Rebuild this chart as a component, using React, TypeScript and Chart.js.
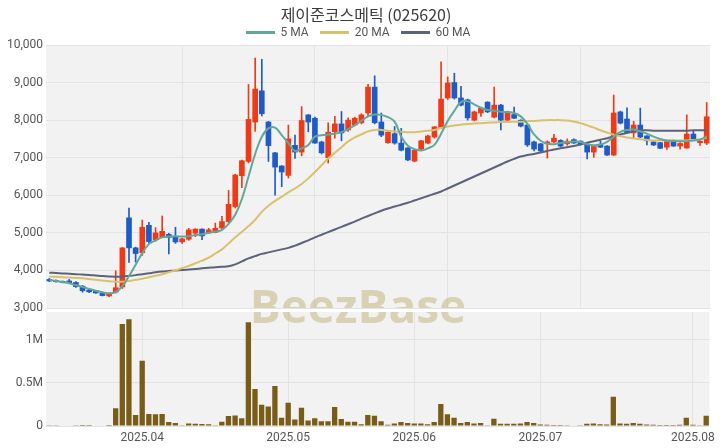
import React, { useEffect, useRef } from 'react';
import { Chart, registerables } from 'chart.js';

Chart.register(...registerables);

// ---- categories (trading days) ----
const monthNames = ['2025.03', '2025.04', '2025.05', '2025.06', '2025.07', '2025.08'];
const marDays = [12, 13, 14, 17, 18, 19, 20, 21, 24, 25, 26, 27, 28, 31];
const aprDays = [1, 2, 3, 4, 7, 8, 9, 10, 11, 14, 15, 16, 17, 18, 21, 22, 23, 24, 25, 28, 29, 30];
const mayDays = [2, 7, 8, 9, 12, 13, 14, 15, 16, 19, 20, 21, 22, 23, 26, 27, 28, 29, 30];
const junDays = [2, 4, 5, 9, 10, 11, 12, 13, 16, 17, 18, 19, 20, 23, 24, 25, 26, 27, 30];
const julDays = [1, 2, 3, 4, 7, 8, 9, 10, 11, 14, 15, 16, 17, 18, 21, 22, 23, 24, 25, 28, 29, 30, 31];
const augDays = [1, 4, 5];

// ---- series values ----
const openPrices = [
  3760, 3730, 3710, 3720, 3680, 3580, 3480, 3460, 3400, 3320,
  3420, 3560, 5400, 4600, 4470, 5200, 4820, 4900, 4960, 4910,
  4760, 4830, 4990, 5100, 5000, 5010, 5130, 5300, 5700, 6520,
  6900, 7950, 8780, 7950, 7130, 6780, 6530, 7330, 7150, 8140,
  8050, 7420, 7000, 7690, 7900, 7740, 7870, 7930, 8190, 8880,
  7950, 7400, 7640, 7390, 7260, 6910, 7230, 7390, 7550, 7800,
  8590, 9000, 8590, 8540, 8000, 8190, 8480, 8080, 8400, 8000,
  8150, 8000, 7870, 7420, 7370, 7370, 7420, 7460, 7370, 7480,
  7440, 7360, 7150, 7360, 7310, 7070, 8220, 8030, 7660, 7870,
  7580, 7420, 7400, 7280, 7460, 7310, 7260, 7630, 7400, 7390,
];
const highPrices = [
  3790, 3750, 3720, 3760, 3700, 3600, 3500, 3470, 3410, 3400,
  3990, 4610, 5660, 4620, 5340, 5280, 5140, 5450, 4990, 5150,
  4860, 5120, 5110, 5110, 5120, 5260, 5440, 6130, 6560, 6940,
  8950, 9650, 9620, 7970, 7140, 6790, 7870, 7600, 8360, 8150,
  8080, 7440, 7930, 8100, 8230, 8060, 8080, 8170, 8950, 9180,
  8190, 7700, 7830, 7780, 7270, 7210, 7460, 7600, 7830, 9550,
  9150, 9250, 8900, 8560, 8240, 8330, 8490, 8880, 8420, 8240,
  8350, 8010, 7880, 7440, 7380, 7450, 7620, 7480, 7500, 7500,
  7450, 7370, 7310, 7450, 7320, 8670, 8240, 8330, 7970, 8320,
  7590, 7430, 7410, 7450, 7470, 7400, 8140, 7720, 7450, 8470,
];
const lowPrices = [
  3700, 3690, 3670, 3650, 3550, 3420, 3410, 3390, 3320, 3300,
  3400, 3520, 4210, 4220, 4400, 4730, 4780, 4880, 4440, 4720,
  4720, 4800, 4900, 4820, 4980, 5000, 5100, 5260, 5660, 6200,
  6860, 7700, 8110, 6900, 6000, 6230, 6460, 6980, 7050, 7690,
  7380, 7100, 6860, 7520, 7450, 7700, 7850, 7900, 8100, 7900,
  7560, 7380, 7360, 7180, 6920, 6890, 7210, 7370, 7520, 7780,
  8550, 8560, 8380, 8000, 7980, 8100, 8200, 8060, 7740, 7990,
  8040, 7820, 7300, 7180, 7150, 6990, 7400, 7290, 7330, 7380,
  7340, 6970, 7010, 7270, 7060, 7060, 7900, 7640, 7520, 7530,
  7340, 7320, 7240, 7220, 7300, 7230, 7250, 7490, 7330, 7350,
];
const closePrices = [
  3720, 3700, 3680, 3670, 3570, 3460, 3430, 3400, 3330, 3380,
  3540, 4600, 4600, 4450, 5150, 4770, 5000, 5040, 4880, 4760,
  4840, 5080, 5100, 4920, 5080, 5120, 5300, 5760, 6540, 6920,
  8020, 8830, 8170, 7320, 6750, 6620, 7500, 7150, 7990, 7950,
  7390, 7130, 7680, 7900, 7660, 8000, 8050, 8140, 8880, 7930,
  7600, 7680, 7390, 7200, 6940, 7200, 7450, 7580, 7820, 8560,
  8990, 8590, 8400, 8060, 8220, 8320, 8220, 8400, 8000, 8220,
  8050, 7840, 7340, 7230, 7180, 7420, 7520, 7310, 7440, 7390,
  7360, 7150, 7300, 7280, 7070, 8190, 7920, 7660, 7870, 7550,
  7450, 7340, 7250, 7440, 7310, 7380, 7630, 7500, 7440, 8090,
];
const volumes = [
  3000, 3000, 5000, 5000, 8000, 12000, 12000, 5000, 5000, 12000,
  205000, 1180000, 1235000, 127000, 755000, 139000, 135000, 139000, 46000, 35000,
  8000, 28000, 25000, 23000, 20000, 10000, 50000, 115000, 123000, 90000,
  1200000, 428000, 246000, 225000, 462000, 95000, 270000, 75000, 210000, 65000,
  90000, 55000, 55000, 220000, 80000, 50000, 50000, 20000, 127000, 120000,
  55000, 15000, 30000, 46000, 35000, 30000, 30000, 20000, 45000, 254000,
  135000, 96000, 35000, 45000, 30000, 35000, 8000, 85000, 25000, 25000,
  25000, 30000, 46000, 35000, 18000, 15000, 12000, 12000, 8000, 5000,
  10000, 25000, 30000, 20000, 18000, 339000, 30000, 25000, 35000, 25000,
  18000, 15000, 12000, 12000, 12000, 15000, 96000, 15000, 10000, 119000,
];
const ma5 = [
  3750, 3720, 3690, 3660, 3610, 3560, 3510, 3460, 3420, 3390,
  3420, 3580, 3850, 4150, 4460, 4700, 4800, 4880, 4900, 4910,
  4900, 4910, 4940, 4960, 5000, 5030, 5080, 5240, 5480, 5900,
  6500, 7100, 7560, 7780, 7800, 7600, 7390, 7180, 7250, 7340,
  7560, 7600, 7620, 7640, 7680, 7760, 7870, 7980, 8100, 8150,
  8140, 8080, 7960, 7560, 7320, 7230, 7190, 7250, 7340, 7640,
  7980, 8250, 8480, 8500, 8420, 8330, 8270, 8250, 8220, 8210,
  8190, 8100, 7900, 7620, 7450, 7370, 7360, 7390, 7410, 7430,
  7420, 7360, 7330, 7350, 7420, 7560, 7690, 7740, 7750, 7700,
  7640, 7560, 7500, 7460, 7450, 7440, 7440, 7460, 7480, 7570,
];
const ma20 = [
  3840, 3830, 3820, 3810, 3800, 3790, 3770, 3750, 3730, 3710,
  3700, 3700, 3720, 3750, 3780, 3820, 3860, 3900, 3950, 4000,
  4060, 4120, 4190, 4260, 4340, 4450, 4560, 4720, 4880, 5030,
  5180, 5350, 5560, 5720, 5850, 5960, 6080, 6180, 6300, 6450,
  6620, 6800, 6980, 7130, 7280, 7430, 7540, 7620, 7700, 7740,
  7740, 7720, 7700, 7690, 7680, 7680, 7700, 7720, 7740, 7790,
  7830, 7860, 7880, 7900, 7910, 7920, 7930, 7940, 7950, 7950,
  7960, 7960, 7970, 7980, 7990, 8000, 8000, 8000, 7990, 7960,
  7920, 7860, 7800, 7730, 7670, 7610, 7570, 7540, 7510, 7490,
  7470, 7460, 7460, 7460, 7460, 7460, 7460, 7470, 7490, 7540,
];
const ma60 = [
  3940, 3930, 3920, 3910, 3900, 3890, 3880, 3865, 3850, 3840,
  3835, 3840, 3855, 3875, 3900, 3925, 3950, 3970, 3985, 4000,
  4010, 4025, 4040, 4055, 4070, 4085, 4095, 4110, 4160, 4240,
  4320, 4380, 4440, 4480, 4520, 4560, 4600, 4660, 4730, 4800,
  4880, 4950, 5020, 5090, 5160, 5230, 5300, 5380, 5450, 5520,
  5590, 5650, 5700, 5750, 5800, 5860, 5920, 5980, 6040, 6100,
  6180, 6260, 6340, 6420, 6500, 6580, 6660, 6740, 6820, 6900,
  6970, 7030, 7070, 7100, 7140, 7180, 7220, 7250, 7280, 7310,
  7350, 7400, 7440, 7480, 7520, 7570, 7620, 7660, 7700, 7730,
  7730, 7720, 7720, 7720, 7720, 7720, 7720, 7730, 7730, 7730,
];

// ---- tick labels ----
const priceMin = 3000;
const priceMax = 10000;
const priceStep = 1000;
const volumeMax = 1320000;
const volumeTicks = [0, 500000, 1000000];
const volumeTickLabels = ['0', '0.5M', '1M'];

const maLabels = ['5 MA', '20 MA', '60 MA'];
const maColors = ['#62a79c', '#d9c16c', '#5c6279'];

// ---- styles ----
const UP = '#ee3a17';
const DOWN = '#1f5bc6';
const VOL = '#7a5c19';
const PLOT_BG = '#f2f2f2';
const GRID = '#e3e3e3';
const TICK = '#555';
const FONT = "Roboto, 'Noto Sans', 'Noto Sans CJK KR', sans-serif";

const PRICE_H = 330; // canvas height for the price panel
const VOL_TOP = 300; // page offset of the volume canvas
const VOL_H = 148;

const dayGroups = [marDays, aprDays, mayDays, junDays, julDays, augDays];
const labels: string[] = [];
const monthStart: number[] = [];
dayGroups.forEach((days, m) => {
  days.forEach((d, j) => {
    if (j === 0 && m > 0) monthStart.push(labels.length);
    labels.push(monthNames[m] + '.' + String(d).padStart(2, '0'));
  });
});

const plotBg = {
  id: 'plotBg',
  beforeDraw(chart: any) {
    const { ctx, chartArea: a } = chart;
    ctx.save();
    ctx.fillStyle = PLOT_BG;
    ctx.fillRect(a.left, a.top, a.right - a.left, a.bottom - a.top);
    ctx.restore();
  },
};

const makeWatermark = (canvasTop: number) => ({
  id: 'wm',
  beforeDatasetsDraw(chart: any) {
    const { ctx, chartArea: a } = chart;
    ctx.save();
    ctx.beginPath();
    ctx.rect(a.left, a.top, a.right - a.left, a.bottom - a.top);
    ctx.clip();
    ctx.font = "bold 46px 'Open Sans', Roboto, sans-serif";
    ctx.fillStyle = 'rgba(196, 182, 128, 0.55)';
    ctx.textAlign = 'center';
    ctx.textBaseline = 'middle';
    ctx.fillText('BeezBase', 358, 310 - canvasTop);
    ctx.restore();
  },
});

export default function App() {
  const priceRef = useRef<HTMLCanvasElement>(null);
  const volRef = useRef<HTMLCanvasElement>(null);

  useEffect(() => {
    const candleColors = closePrices.map((c, i) => (c >= openPrices[i] ? UP : DOWN));
    const maData = [ma5, ma20, ma60];

    const price = new Chart(priceRef.current as HTMLCanvasElement, {
      type: 'bar',
      data: {
        labels,
        datasets: [
          ...maData.map((d, k) => ({
            type: 'line' as const,
            label: maLabels[k],
            data: d,
            borderColor: maColors[k],
            backgroundColor: maColors[k],
            borderWidth: 2,
            pointRadius: 0,
            tension: 0.4,
            order: 0,
          })),
          {
            type: 'bar' as const,
            label: 'wick',
            data: lowPrices.map((l, i) => [l, highPrices[i]]),
            backgroundColor: candleColors,
            barThickness: 1,
            grouped: false,
            order: 2,
          },
          {
            type: 'bar' as const,
            label: 'body',
            data: openPrices.map((o, i) => [o, closePrices[i]]),
            backgroundColor: candleColors,
            barThickness: 5,
            minBarLength: 1,
            grouped: false,
            order: 1,
          },
        ] as any,
      },
      options: {
        animation: false,
        responsive: false,
        devicePixelRatio: 1,
        layout: { padding: { top: 45, right: 10, bottom: PRICE_H - 308, left: 0 } },
        plugins: { legend: { display: false }, title: { display: false }, tooltip: { enabled: false } },
        scales: {
          x: {
            grid: { color: GRID, offset: false, drawTicks: false },
            border: { display: false },
            ticks: { display: false, autoSkip: false },
            afterBuildTicks: (s: any) => {
              s.ticks = labels.map((_, i) => i).filter((i) => i > 0 && i % 20 === 0).map((v) => ({ value: v }));
            },
            afterFit: (s: any) => {
              s.height = 0;
            },
          },
          y: {
            min: priceMin,
            max: priceMax,
            ticks: {
              stepSize: priceStep,
              color: TICK,
              font: { size: 12, family: FONT },
              padding: 3,
              callback: (v: any) => Number(v).toLocaleString('en-US'),
            },
            grid: { color: GRID, drawTicks: false },
            border: { display: false },
            afterFit: (s: any) => {
              s.width = 46;
            },
          },
        },
      } as any,
      plugins: [plotBg, makeWatermark(0)],
    });

    const vol = new Chart(volRef.current as HTMLCanvasElement, {
      type: 'bar',
      data: {
        labels,
        datasets: [
          {
            label: 'volume',
            data: volumes,
            backgroundColor: VOL,
            barPercentage: 0.8,
            categoryPercentage: 1,
          },
        ],
      },
      options: {
        animation: false,
        responsive: false,
        devicePixelRatio: 1,
        layout: { padding: { top: 312 - VOL_TOP, right: 10, bottom: 0, left: 0 } },
        plugins: { legend: { display: false }, title: { display: false }, tooltip: { enabled: false } },
        scales: {
          x: {
            grid: { color: GRID, offset: false, drawTicks: false },
            border: { display: false },
            ticks: {
              autoSkip: false,
              maxRotation: 0,
              padding: 5,
              color: TICK,
              font: { size: 12, family: FONT },
              callback: (v: any) => labels[v].slice(0, 7),
            },
            afterBuildTicks: (s: any) => {
              s.ticks = monthStart.map((v) => ({ value: v }));
            },
            afterFit: (s: any) => {
              s.height = VOL_TOP + VOL_H - 426;
            },
          },
          y: {
            min: 0,
            max: volumeMax,
            ticks: {
              color: TICK,
              font: { size: 12, family: FONT },
              padding: 3,
              callback: (v: any) => volumeTickLabels[volumeTicks.indexOf(Number(v))] ?? '',
            },
            afterBuildTicks: (s: any) => {
              s.ticks = volumeTicks.map((v) => ({ value: v }));
            },
            grid: { color: GRID, drawTicks: false },
            border: { display: false },
            afterFit: (s: any) => {
              s.width = 46;
            },
          },
        },
      } as any,
      plugins: [plotBg, makeWatermark(VOL_TOP)],
    });

    return () => {
      price.destroy();
      vol.destroy();
    };
  }, []);

  return (
    <div style={{ position: 'absolute', left: 0, top: 0, width: 720, height: 448, background: '#fff', fontFamily: FONT }}>
      <canvas ref={priceRef} width={720} height={PRICE_H} style={{ position: 'absolute', left: 0, top: 0, width: 720, height: PRICE_H }} />
      <canvas ref={volRef} width={720} height={VOL_H} style={{ position: 'absolute', left: 0, top: VOL_TOP, width: 720, height: VOL_H }} />
      <div
        style={{
          position: 'absolute',
          left: 6,
          top: 4,
          width: 720,
          textAlign: 'center',
          fontSize: 16,
          lineHeight: '20px',
          color: '#3a3a3a',
          fontFamily: "'Noto Sans CJK KR', 'Noto Sans', sans-serif",
        }}
      >
        제이준코스메틱 (025620)
      </div>
      <div
        style={{
          position: 'absolute',
          left: -2,
          top: 25,
          width: 720,
          display: 'flex',
          justifyContent: 'center',
          alignItems: 'center',
          gap: 11,
          fontSize: 12,
          lineHeight: '15px',
          color: '#555',
        }}
      >
        {maLabels.map((l, k) => (
          <div key={l} style={{ display: 'flex', alignItems: 'center' }}>
            <span style={{ display: 'inline-block', width: 29, height: 3, background: maColors[k], marginRight: 6 }} />
            <span>{l}</span>
          </div>
        ))}
      </div>
    </div>
  );
}
